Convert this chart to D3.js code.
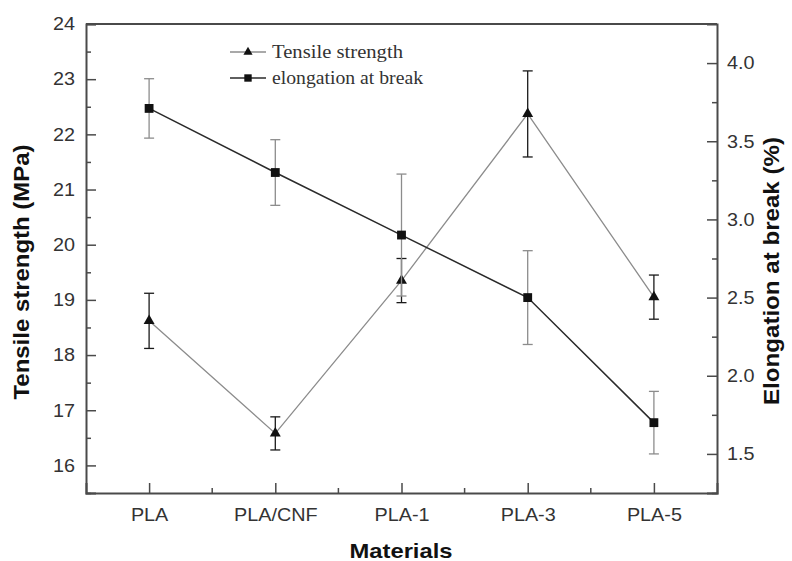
<!DOCTYPE html>
<html>
<head>
<meta charset="utf-8">
<script src="https://cdn.jsdelivr.net/npm/d3@7"></script>
<style>
  body { margin: 0; background: #fff; }
  svg { display: block; }
</style>
</head>
<body>
<figure id="chart" style="margin:0"></figure>
<script>
// materials on the x axis
const categories = ["PLA", "PLA/CNF", "PLA-1", "PLA-3", "PLA-5"];

// tensile strength (MPa), left axis
const tensile = [18.62, 16.58, 19.35, 22.37, 19.05];
const tensileErr = [0.5, 0.3, 0.4, 0.78, 0.4];

// elongation at break (%), right axis
const elongation = [3.71, 3.3, 2.9, 2.5, 1.7];
const elongationErr = [0.19, 0.21, 0.39, 0.3, 0.2];

const leftTicks = [16, 17, 18, 19, 20, 21, 22, 23, 24];
const leftMinor = [15.5, 16.5, 17.5, 18.5, 19.5, 20.5, 21.5, 22.5, 23.5];
const rightTicks = [1.5, 2.0, 2.5, 3.0, 3.5, 4.0];
const rightMinor = [1.25, 1.75, 2.25, 2.75, 3.25, 3.75];

const width = 792, height = 561;
const plot = { left: 86, right: 717, top: 24, bottom: 493 };

const svg = d3.select("figure#chart")
  .append("svg")
  .attr("width", width)
  .attr("height", height);

const x = d3.scalePoint()
  .domain(categories)
  .range([plot.left, plot.right])
  .padding(0.5);

const yL = d3.scaleLinear()
  .domain([15.5, 24])
  .range([plot.bottom, plot.top]);

const yR = d3.scaleLinear()
  .domain([1.25, 4.25])
  .range([plot.bottom, plot.top]);

const axisColor = "#4a4a4a";
const textColor = "#333";

function styleAxis(g) {
  g.select(".domain").attr("stroke", axisColor).attr("stroke-width", 2);
  g.selectAll(".tick line").attr("stroke", axisColor).attr("stroke-width", 1.5);
  g.selectAll("text")
    .attr("fill", textColor)
    .style("font-family", "'Liberation Sans', Arial, sans-serif")
    .style("font-size", "18px")
    .each(function () {
      // the scan is a little wider than tall, stretch labels to match
      const len = this.getComputedTextLength();
      if (len > 0) {
        d3.select(this)
          .attr("textLength", len * 1.1)
          .attr("lengthAdjust", "spacingAndGlyphs");
      }
    });
}

// top border of the frame
svg.append("line")
  .attr("x1", plot.left).attr("x2", plot.right)
  .attr("y1", plot.top).attr("y2", plot.top)
  .attr("stroke", axisColor).attr("stroke-width", 2);

// left axis
svg.append("g")
  .attr("transform", "translate(" + plot.left + ",0)")
  .call(d3.axisLeft(yL).tickValues(leftTicks).tickSize(-10).tickPadding(11).tickFormat(d3.format("d")))
  .call(styleAxis);
svg.append("g")
  .attr("transform", "translate(" + plot.left + ",0)")
  .call(d3.axisLeft(yL).tickValues(leftMinor).tickSize(-5).tickFormat(""))
  .call(styleAxis)
  .select(".domain").remove();

// right axis
svg.append("g")
  .attr("transform", "translate(" + plot.right + ",0)")
  .call(d3.axisRight(yR).tickValues(rightTicks).tickSize(-10).tickPadding(10).tickFormat(d3.format(".1f")))
  .call(styleAxis);
svg.append("g")
  .attr("transform", "translate(" + plot.right + ",0)")
  .call(d3.axisRight(yR).tickValues(rightMinor).tickSize(-5).tickFormat(""))
  .call(styleAxis)
  .select(".domain").remove();

// bottom axis
svg.append("g")
  .attr("transform", "translate(0," + plot.bottom + ")")
  .call(d3.axisBottom(x).tickSize(-10).tickPadding(15))
  .call(styleAxis);

// minor ticks halfway between materials
const xMinor = categories.slice(0, -1).map(c => x(c) + x.step() / 2);
svg.append("g")
  .selectAll("line")
  .data(xMinor)
  .enter()
  .append("line")
  .attr("x1", d => d).attr("x2", d => d)
  .attr("y1", plot.bottom).attr("y2", plot.bottom - 5)
  .attr("stroke", axisColor).attr("stroke-width", 1.5);

// series
const series = [
  { name: "Tensile strength", values: tensile, err: tensileErr, y: yL,
    line: "#8c8c8c", lineWidth: 1.3, errColor: "#1a1a1a", symbol: d3.symbolTriangle, size: 52 },
  { name: "elongation at break", values: elongation, err: elongationErr, y: yR,
    line: "#2a2a2a", lineWidth: 1.5, errColor: "#8c8c8c", symbol: d3.symbolSquare, size: 78 }
];

series.forEach(s => {
  const pts = categories.map((c, i) => ({ c: c, v: s.values[i], e: s.err[i] }));

  svg.append("path")
    .datum(pts)
    .attr("fill", "none")
    .attr("stroke", s.line)
    .attr("stroke-width", s.lineWidth)
    .attr("d", d3.line().x(d => x(d.c)).y(d => s.y(d.v)));

  const eb = svg.append("g")
    .attr("stroke", s.errColor)
    .attr("stroke-width", 1.3)
    .selectAll("g")
    .data(pts)
    .enter()
    .append("g");
  eb.append("line")
    .attr("x1", d => x(d.c)).attr("x2", d => x(d.c))
    .attr("y1", d => s.y(d.v - d.e)).attr("y2", d => s.y(d.v + d.e));
  eb.append("line")
    .attr("x1", d => x(d.c) - 5).attr("x2", d => x(d.c) + 5)
    .attr("y1", d => s.y(d.v + d.e)).attr("y2", d => s.y(d.v + d.e));
  eb.append("line")
    .attr("x1", d => x(d.c) - 5).attr("x2", d => x(d.c) + 5)
    .attr("y1", d => s.y(d.v - d.e)).attr("y2", d => s.y(d.v - d.e));

  svg.append("g")
    .selectAll("path")
    .data(pts)
    .enter()
    .append("path")
    .attr("transform", d => "translate(" + x(d.c) + "," + s.y(d.v) + ")")
    .attr("d", d3.symbol().type(s.symbol).size(s.size))
    .attr("fill", "#111");
});

// legend
const legend = svg.append("g").attr("transform", "translate(230,52)");
series.forEach((s, i) => {
  const row = legend.append("g").attr("transform", "translate(0," + (i * 26) + ")");
  row.append("line")
    .attr("x1", 0).attr("x2", 36)
    .attr("stroke", s.line).attr("stroke-width", s.lineWidth);
  row.append("path")
    .attr("transform", "translate(18,0)")
    .attr("d", d3.symbol().type(s.symbol).size(s.size * 0.7))
    .attr("fill", "#111");
  row.append("text")
    .attr("x", 42)
    .attr("y", 6)
    .attr("fill", textColor)
    .attr("textLength", i === 0 ? 131 : 151)
    .attr("lengthAdjust", "spacingAndGlyphs")
    .style("font-family", "'Liberation Serif', 'Times New Roman', serif")
    .style("font-size", "18px")
    .text(s.name);
});

// axis titles
const titleFont = "'Liberation Sans', Arial, sans-serif";
svg.append("text")
  .attr("transform", "translate(29,272) rotate(-90)")
  .attr("text-anchor", "middle")
  .attr("textLength", 255)
  .attr("lengthAdjust", "spacingAndGlyphs")
  .style("font-family", titleFont)
  .style("font-size", "22px")
  .style("font-weight", "bold")
  .attr("fill", "#111")
  .text("Tensile strength (MPa)");

svg.append("text")
  .attr("transform", "translate(779,271) rotate(-90)")
  .attr("text-anchor", "middle")
  .attr("textLength", 268)
  .attr("lengthAdjust", "spacingAndGlyphs")
  .style("font-family", titleFont)
  .style("font-size", "22px")
  .style("font-weight", "bold")
  .attr("fill", "#111")
  .text("Elongation at break (%)");

svg.append("text")
  .attr("x", 401)
  .attr("y", 558)
  .attr("text-anchor", "middle")
  .attr("textLength", 103)
  .attr("lengthAdjust", "spacingAndGlyphs")
  .style("font-family", titleFont)
  .style("font-size", "21px")
  .style("font-weight", "bold")
  .attr("fill", "#111")
  .text("Materials");
</script>
</body>
</html>
